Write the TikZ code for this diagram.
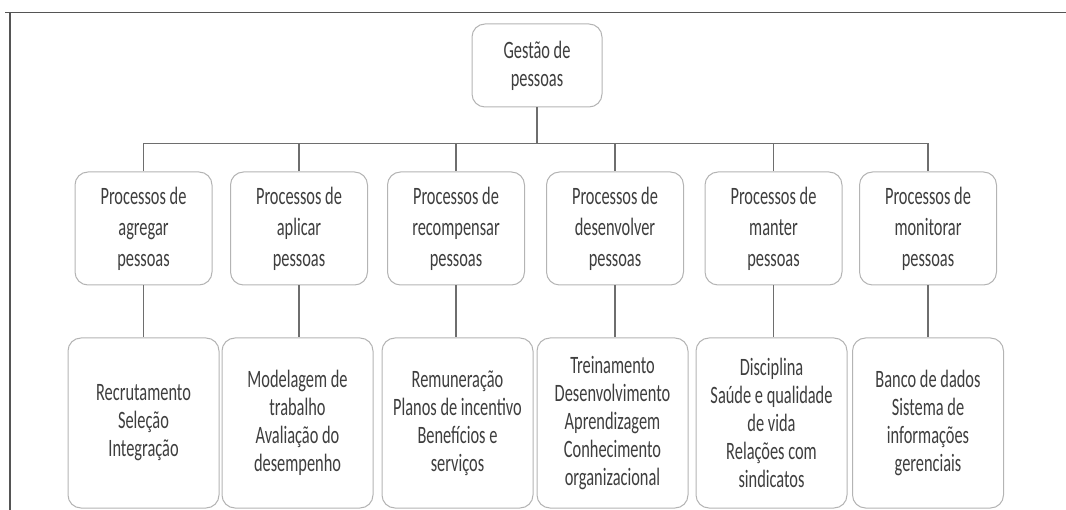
\documentclass[tikz,border=0pt]{standalone}
\usepackage{fontspec}
\setmainfont[FakeStretch=0.655]{Carlito}
\definecolor{txt}{HTML}{3E3E3E}
\definecolor{boxline}{HTML}{B4B4B4}
\definecolor{conn}{HTML}{6E6E6E}
\definecolor{frame}{HTML}{555555}
\begin{document}
\begin{tikzpicture}[x=1pt,y=-1pt,
  box/.style={draw=boxline, line width=1pt, rounded corners=13pt, fill=white,
    text=txt, align=center, inner sep=0pt, font=\fontsize{25}{28}\selectfont},
  topbox/.style={box, minimum width=130pt, minimum height=83pt},
  midbox/.style={box, minimum width=137pt, minimum height=113pt, font=\fontsize{25}{31}\selectfont},
  lowbox/.style={box, minimum width=151pt, minimum height=170pt},
  link/.style={draw=conn, line width=1.1pt},
  frameline/.style={draw=frame, line width=1.4pt}]
\useasboundingbox (0,0) rectangle (1066,510);
% frame
\coordinate (fa) at (5,12.5);
\coordinate (fb) at (1066,12.5);
\coordinate (fc) at (10,12.5);
\coordinate (fd) at (10,510);
\draw[frameline] (fa) -- (fb);
\draw[frameline] (fc) -- (fd);
% top
\node[topbox] (top) at (537,65.5) {Gestão de\\pessoas};
% level 2
\node[midbox] (p1) at (143.5,228.5) {Processos de\\agregar\\pessoas};
\node[midbox] (p2) at (299,228.5) {Processos de\\aplicar\\pessoas};
\node[midbox] (p3) at (456,228.5) {Processos de\\recompensar\\pessoas};
\node[midbox] (p4) at (615,228.5) {Processos de\\desenvolver\\pessoas};
\node[midbox] (p5) at (773.5,228.5) {Processos de\\manter\\pessoas};
\node[midbox] (p6) at (928,228.5) {Processos de\\monitorar\\pessoas};
% level 3
\node[lowbox] (d1) at (143.5,423) {Recrutamento\\Seleção\\Integração};
\node[lowbox] (d2) at (297.5,423) {Modelagem de\\trabalho\\Avaliação do\\desempenho};
\node[lowbox] (d3) at (457.5,423) {Remuneração\\Planos de incentivo\\Benefícios e\\serviços};
\node[lowbox] (d4) at (612.5,423) {Treinamento\\Desenvolvimento\\Aprendizagem\\Conhecimento\\organizacional};
\node[lowbox] (d5) at (771.5,423) {Disciplina\\Saúde e qualidade\\de vida\\Relações com\\sindicatos};
\node[lowbox] (d6) at (928,423) {Banco de dados\\Sistema de\\informações\\gerenciais};
% connectors
\foreach \n in {p1,p2,p3,p4,p5,p6}{
  \draw[link] (top.south) -- ++(0,36) -| (\n.north);
}
\foreach \a/\b in {p1/d1,p2/d2,p3/d3,p4/d4,p5/d5,p6/d6}{
  \draw[link] (\a.south) -- (\a.south |- \b.north);
}
\end{tikzpicture}
\end{document}
